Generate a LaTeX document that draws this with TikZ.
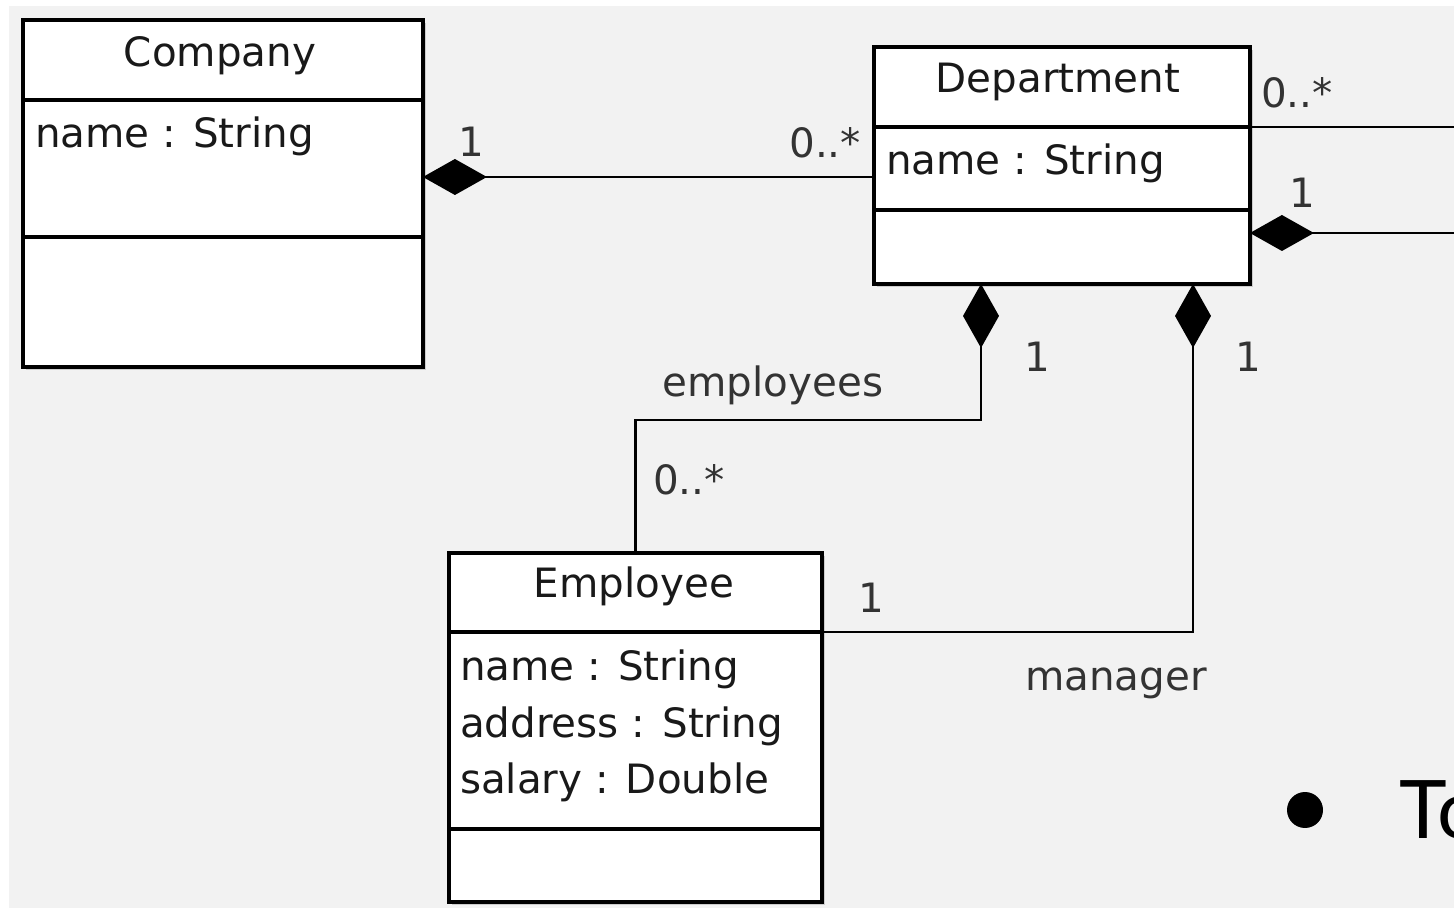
\documentclass[tikz,border=0pt]{standalone}
\usepackage{fontspec}
\setmainfont{DejaVu Sans}
\newfontfamily\slidefont{Lato}
\usetikzlibrary{arrows.meta,shadows}
\definecolor{canvas}{HTML}{F2F2F2}
\definecolor{labelgray}{HTML}{333333}

\begin{document}
\begin{tikzpicture}[x=0.02cm,y=-0.02cm,line width=1.2pt]
	\tikzstyle{part}=[draw,line width=1.9pt,fill=white,anchor=north west,inner sep=0pt,outer sep=0pt,drop shadow={shadow xshift=1.5pt,shadow yshift=-1.5pt,opacity=0.15,fill=black}]
	\tikzstyle{txt}=[anchor=base,inner sep=0pt,text=black!90,font=\fontsize{23}{32}\selectfont]
	\tikzstyle{attr}=[txt,anchor=base west]
	\tikzstyle{mult}=[txt,text=labelgray]
	\tikzstyle{compo}=[{Diamond[length=1.28cm,width=0.72cm]}-]
	
	\useasboundingbox (0,0) rectangle (1454,908);
	\clip (0,0) rectangle (1454,908);
	\fill[canvas] (9,6) rectangle (1460,912);
	
	% Company
	\node[part,minimum width=8cm,minimum height=1.6cm](ctitle) at (23,20){};
	\node[part,minimum width=8cm,minimum height=2.74cm](cattr) at (ctitle.south west){};
	\node[part,minimum width=8cm,minimum height=2.6cm](cops) at (cattr.south west){};
	\node[txt](cname) at (220,67){Company};
	\node[attr](cname1) at (34,148){name : String};
	
	% Department
	\node[part,minimum width=7.52cm,minimum height=1.6cm](dtitle) at (874,47){};
	\node[part,minimum width=7.52cm,minimum height=1.66cm](dattr) at (dtitle.south west){};
	\node[part,minimum width=7.52cm,minimum height=1.48cm](dops) at (dattr.south west){};
	\node[txt](dname) at (1058,93){Department};
	\node[attr](dname1) at (885,175){name : String};
	
	% Employee
	\node[part,minimum width=7.46cm,minimum height=1.58cm](etitle) at (449,553){};
	\node[part,minimum width=7.46cm,minimum height=3.94cm](eattr) at (etitle.south west){};
	\node[part,minimum width=7.46cm,minimum height=1.46cm](eops) at (eattr.south west){};
	\node[txt](ename) at (634,598){Employee};
	\node[attr](ename1) at (459,680){name : String};
	\node[attr](ename2) at (459,737){address : String};
	\node[attr](ename3) at (459,793){salary : Double};
	
	% associations
	\coordinate (cdline) at (650,177);
	\coordinate (rtop) at (1460,127);
	\coordinate (rbot) at (1460,233);
	\coordinate (ebend) at (981,420);
	\coordinate (mbend) at (1193,632);
	
	\draw[compo] (cattr.east |- cdline) -- (dattr.west |- cdline);
	\draw (dattr.north east) -- (dattr.north east -| rtop);
	\draw[compo] (dops.east |- rbot) -- (rbot);
	\draw[compo] (dops.south -| ebend) |- (etitle.north |- ebend) -- (etitle.north);
	\draw[compo] (dops.south -| mbend) |- (eattr.north east);
	
	\node[mult](m1) at (471,157){1};
	\node[mult,anchor=base east](m2) at (862,158){0..*};
	\node[mult,anchor=base west](m3) at (1260,108){0..*};
	\node[mult](m4) at (1302,208){1};
	\node[mult](m5) at (1037,372){1};
	\node[mult](m6) at (1248,372){1};
	\node[mult](roleemp) at (773,397){employees};
	\node[mult,anchor=base west](m7) at (652,495){0..*};
	\node[mult](m8) at (871,613){1};
	\node[mult](rolemgr) at (1116,690){manager};
	
	% slide text
	\node[circle,fill=black,minimum size=0.72cm,inner sep=0pt](dot) at (1305,810){};
	\node[anchor=base west,inner sep=0pt,font=\slidefont\fontsize{46}{50}\selectfont](todo) at (1398,838){To};
	
\end{tikzpicture}
\end{document}
